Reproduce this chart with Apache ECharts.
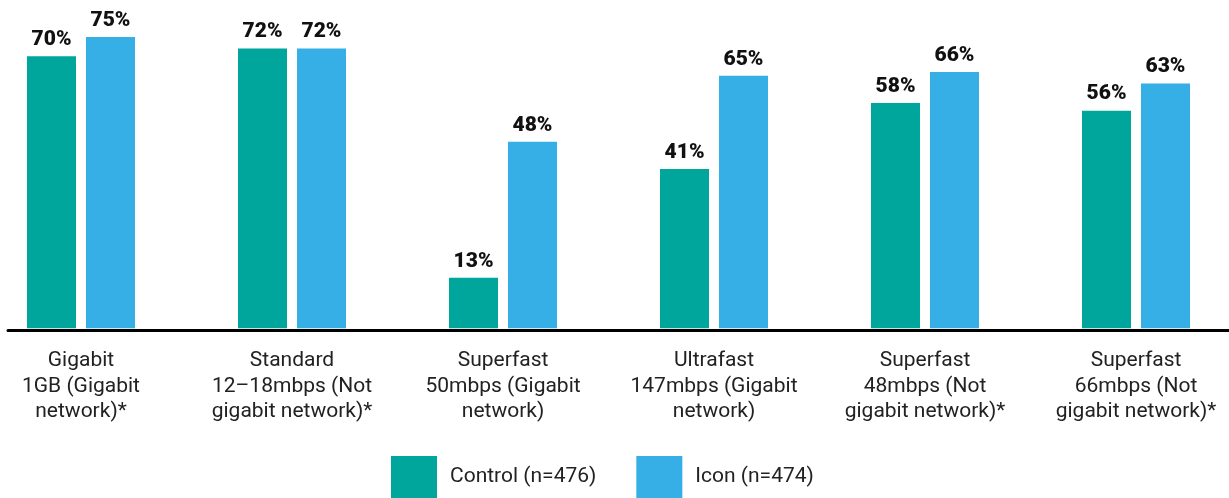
<!DOCTYPE html>
<html>
<head>
<meta charset="utf-8">
<style>
html,body{margin:0;padding:0;background:#fff;}
#chart{width:1229px;height:498px;}
</style>
<script src="https://cdn.jsdelivr.net/npm/echarts@6/dist/echarts.min.js"></script>
</head>
<body>
<div id="chart"></div>
<script>
var categories = [
  "Gigabit\n1GB (Gigabit\nnetwork)*",
  "Standard\n12–18mbps (Not\ngigabit network)*",
  "Superfast\n50mbps (Gigabit\nnetwork)",
  "Ultrafast\n147mbps (Gigabit\nnetwork)",
  "Superfast\n48mbps (Not\ngigabit network)*",
  "Superfast\n66mbps (Not\ngigabit network)*"
];
var controlValues = [70, 72, 13, 41, 58, 56];
var iconValues = [75, 72, 48, 65, 66, 63];
var seriesNames = ["Control (n=476)", "Icon (n=474)"];

var chart = echarts.init(document.getElementById('chart'), null, {renderer: 'canvas'});
var labelStyle = {
  show: true,
  position: 'top',
  distance: 6,
  formatter: function (p) { return p.value + '%'; },
  fontFamily: 'Roboto',
  fontWeight: 900,
  fontSize: 21,
  color: '#111'
};
chart.setOption({
  animation: false,
  backgroundColor: '#fff',
  legend: {
    left: 391,
    top: 456,
    itemWidth: 46,
    itemHeight: 42,
    itemGap: 40,
    icon: 'rect',
    padding: 0,
    textStyle: {fontFamily: 'Roboto', fontSize: 21, color: '#222', padding: [0, 0, 0, 8]},
    data: seriesNames
  },
  grid: [
    {left: -24.5, width: 1266, top: 17.5, bottom: 169.7, outerBoundsMode: 'none'},
    {left: 8, right: 0, top: 17.5, bottom: 167.5, outerBoundsMode: 'none'}
  ],
  xAxis: [
    {
      type: 'category',
      gridIndex: 0,
      data: categories,
      axisLine: {show: false},
      axisTick: {show: false},
      axisLabel: {
        interval: 0,
        margin: 20,
        fontFamily: 'Roboto',
        fontSize: 21,
        lineHeight: 25.5,
        color: '#222',
        align: 'center'
      }
    },
    {
      type: 'category',
      gridIndex: 1,
      data: [''],
      axisLine: {show: true, lineStyle: {color: '#000', width: 3}},
      axisTick: {show: false},
      axisLabel: {show: false}
    }
  ],
  yAxis: [
    {type: 'value', gridIndex: 0, min: 0, max: 80, show: false},
    {type: 'value', gridIndex: 1, min: 0, max: 80, show: false}
  ],
  series: [
    {
      name: seriesNames[0],
      type: 'bar',
      xAxisIndex: 0, yAxisIndex: 0,
      data: controlValues,
      barWidth: 49,
      barGap: '20.4%',
      itemStyle: {color: '#00a69c'},
      label: labelStyle
    },
    {
      name: seriesNames[1],
      type: 'bar',
      xAxisIndex: 0, yAxisIndex: 0,
      data: iconValues,
      barWidth: 49,
      barGap: '20.4%',
      itemStyle: {color: '#36aee6'},
      label: labelStyle
    }
  ]
});
</script>
</body>
</html>
